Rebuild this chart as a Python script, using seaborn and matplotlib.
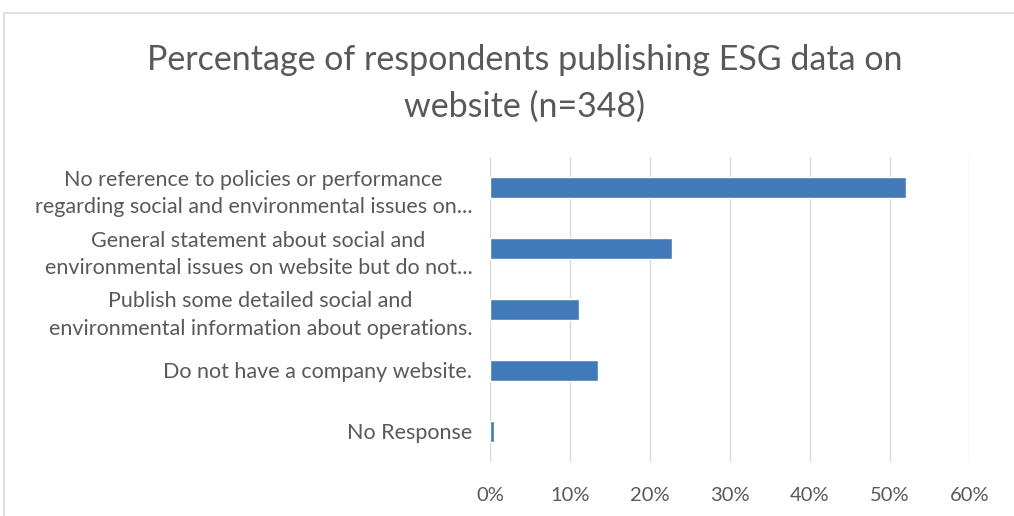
import matplotlib
matplotlib.use("Agg")
import matplotlib.pyplot as plt
import seaborn as sns
import pandas as pd
from matplotlib.patches import Rectangle
from matplotlib.ticker import PercentFormatter

categories = [
    "No reference to policies or performance\nregarding social and environmental issues on...",
    "General statement about social and\nenvironmental issues on website but do not...",
    "Publish some detailed social and\nenvironmental information about operations.",
    "Do not have a company website.",
    "No Response",
]
values = [52.0, 22.8, 11.1, 13.5, 0.45]
title = "Percentage of respondents publishing ESG data on\nwebsite (n=348)"

df = pd.DataFrame({"category": categories, "value": values})

sns.set_style("white")
plt.rcParams["font.family"] = ["Lato", "DejaVu Sans"]

fig = plt.figure(figsize=(10.14, 5.16), dpi=100)
ax = fig.add_axes([0.4837, 0.1047, 0.4723, 0.591])

# chart border like the excel frame
fig.patches.append(Rectangle((4 / 1014, -0.1), 1.2, 1 - 13 / 516 + 0.1,
                             transform=fig.transFigure, fill=False,
                             edgecolor="#d9d9d9", linewidth=1.2))

sns.barplot(data=df, y="category", x="value", orient="h", color="#4279b9",
            width=0.33, saturation=1, ax=ax)

ax.set_xlim(0, 60)
ax.set_xticks(range(0, 61, 10))
ax.xaxis.set_major_formatter(PercentFormatter(decimals=0))
ax.grid(axis="x", color="#d9d9d9", linewidth=1)
ax.set_axisbelow(True)
for s in ax.spines.values():
    s.set_visible(False)
ax.set_xlabel("")
ax.set_ylabel("")
ax.tick_params(axis="both", length=0, labelcolor="#595959")
ax.tick_params(axis="y", pad=13, labelsize=15.5)
ax.tick_params(axis="x", pad=18, labelsize=14.5)
for lab in ax.get_yticklabels():
    lab.set_horizontalalignment("right")
    lab.set_multialignment("center")
    lab.set_linespacing(1.45)

fig.text(0.5175, 0.838, title, ha="center", va="center", fontsize=24.5,
         color="#595959", linespacing=1.55)

fig.savefig("out.png", dpi=100, facecolor="white")
